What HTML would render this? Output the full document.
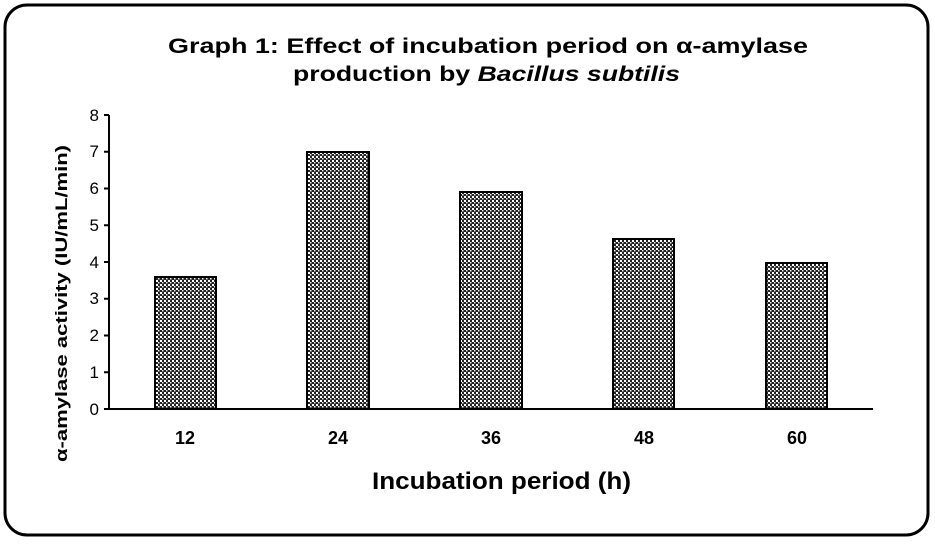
<!DOCTYPE html>
<html><head><style>
body{margin:0;background:#fff;}
</style></head><body>
<svg width="935" height="541" xmlns="http://www.w3.org/2000/svg" font-family="Liberation Sans, Arial, sans-serif" xml:space="preserve">
<defs>
<pattern id="p" width="4" height="4" patternUnits="userSpaceOnUse">
<rect width="4" height="4" fill="#222"/>
<rect x="0" y="0" width="2" height="2" fill="#fff"/>
<rect x="2" y="2" width="1.5" height="1.5" fill="#eee"/>
</pattern>
</defs>
<rect x="5" y="5" width="923" height="530" rx="22" fill="#fff" stroke="#000" stroke-width="3"/>
<text x="168" y="53" font-size="21" font-weight="bold" textLength="640" lengthAdjust="spacingAndGlyphs">Graph 1: Effect  of  incubation  period on α-amylase</text>
<text x="293" y="81" font-size="21" font-weight="bold" textLength="387" lengthAdjust="spacingAndGlyphs">production  by <tspan font-style="italic">Bacillus subtilis</tspan></text>
<g fill="url(#p)" stroke="#000" stroke-width="2">
<rect x="155" y="277" width="61" height="132"/>
<rect x="307" y="152" width="62" height="257"/>
<rect x="460" y="192" width="62" height="217"/>
<rect x="613" y="239" width="61" height="170"/>
<rect x="766" y="263" width="61" height="146"/>
</g>
<g stroke="#000" stroke-width="2">
<line x1="109" y1="115" x2="109" y2="410"/>
<line x1="108" y1="409" x2="873" y2="409"/>
<line x1="104" y1="115" x2="109" y2="115"/>
<line x1="104" y1="151.75" x2="109" y2="151.75"/>
<line x1="104" y1="188.5" x2="109" y2="188.5"/>
<line x1="104" y1="225.25" x2="109" y2="225.25"/>
<line x1="104" y1="262" x2="109" y2="262"/>
<line x1="104" y1="298.75" x2="109" y2="298.75"/>
<line x1="104" y1="335.5" x2="109" y2="335.5"/>
<line x1="104" y1="372.25" x2="109" y2="372.25"/>
<line x1="104" y1="409" x2="109" y2="409"/>
</g>
<g font-size="17" text-anchor="end">
<text x="99" y="121">8</text><text x="99" y="157">7</text><text x="99" y="194">6</text>
<text x="99" y="231">5</text><text x="99" y="268">4</text><text x="99" y="304">3</text>
<text x="99" y="341">2</text><text x="99" y="378">1</text><text x="99" y="415">0</text>
</g>
<g font-size="18" font-weight="bold" text-anchor="middle">
<text x="185" y="444">12</text><text x="338" y="444">24</text><text x="491" y="444">36</text>
<text x="644" y="444">48</text><text x="797" y="444">60</text>
</g>
<text x="372" y="489" font-size="24" font-weight="bold" textLength="259" lengthAdjust="spacingAndGlyphs">Incubation period (h)</text>
<text transform="translate(67,462) rotate(-90)" font-size="17" font-weight="bold" textLength="317" lengthAdjust="spacingAndGlyphs">α-amylase activity (IU/mL/min)</text>
</svg>
</body></html>
